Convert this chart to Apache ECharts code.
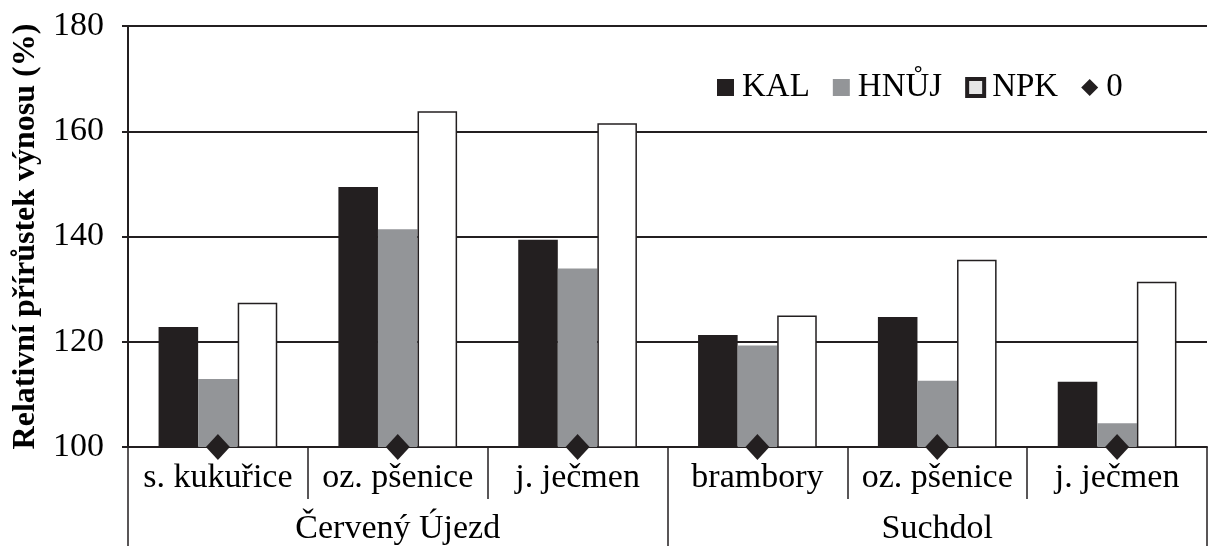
<!DOCTYPE html>
<html>
<head>
<meta charset="utf-8">
<script src="https://cdn.jsdelivr.net/npm/echarts@6/dist/echarts.min.js"></script>
<style>html,body{margin:0;padding:0;background:#fff}#c{width:1210px;height:546px}</style>
</head>
<body>
<div id="c"></div>
<script>
const crops = ['s. kukuřice', 'oz. pšenice', 'j. ječmen', 'brambory', 'oz. pšenice', 'j. ječmen'];
const sites = ['Červený Újezd', 'Suchdol'];
const kal = [122.8, 149.4, 139.4, 121.3, 124.7, 112.4];
const hnuj = [112.9, 141.4, 133.9, 119.3, 112.6, 104.5];
const npk = [127.4, 163.8, 161.5, 125.0, 135.6, 131.4];
const control = [100, 100, 100, 100, 100, 100];
const yTicks = [100, 120, 140, 160, 180];

const font = '"Liberation Serif", "Times New Roman", serif';
const ink = '#231f20';
const chart = echarts.init(document.getElementById('c'), null, {renderer: 'canvas'});
chart.setOption({
  animation: false,
  backgroundColor: '#fff',
  grid: {left: 128, right: 3, top: 26, bottom: 99, containLabel: false},
  legend: {
    left: 712, top: 66,
    itemWidth: 17, itemHeight: 17, itemGap: 23,
    textStyle: {fontFamily: font, fontSize: 33, color: '#000', padding: [0, 0, 0, 3]},
    data: [
      {name: 'KAL', icon: 'rect'},
      {name: 'HNŮJ', icon: 'rect'},
      {name: 'NPK', icon: 'rect', itemStyle: {color: '#e6e6e6', borderColor: ink, borderWidth: 4}},
      {name: '0', icon: 'diamond', itemStyle: {color: ink, opacity: 1}}
    ]
  },
  xAxis: [
    {
      type: 'category', data: crops, position: 'bottom',
      axisLine: {show: true, lineStyle: {color: ink, width: 2}},
      axisTick: {show: true, interval: 0, length: 52, lineStyle: {color: ink, width: 1.5}},
      axisLabel: {interval: 0, margin: 14, fontFamily: font, fontSize: 34, color: '#000'},
      splitLine: {show: false}
    },
    {
      type: 'category', data: sites, position: 'bottom', offset: 52,
      axisLine: {show: false},
      axisTick: {show: true, interval: 0, length: 50, alignWithLabel: false, lineStyle: {color: ink, width: 1.5}},
      axisLabel: {interval: 0, margin: 13, fontFamily: font, fontSize: 34, color: '#000'},
      splitLine: {show: false}
    }
  ],
  yAxis: {
    type: 'value', min: yTicks[0], max: yTicks[yTicks.length - 1], interval: 20,
    name: 'Relativní přírůstek výnosu (%)', nameLocation: 'middle', nameGap: 82,
    nameTextStyle: {fontFamily: font, fontSize: 32, fontWeight: 'bold', color: '#000'},
    axisLine: {show: true, lineStyle: {color: ink, width: 2}},
    axisTick: {show: true, length: 6, lineStyle: {color: ink, width: 2}},
    axisLabel: {margin: 24, fontFamily: font, fontSize: 34, color: '#000'},
    splitLine: {show: true, lineStyle: {color: ink, width: 2}}
  },
  series: [
    {name: 'KAL', type: 'bar', data: kal, barGap: '0%', barCategoryGap: '34%',
     itemStyle: {color: ink}},
    {name: 'HNŮJ', type: 'bar', data: hnuj, itemStyle: {color: '#939598'}},
    {name: 'NPK', type: 'bar', data: npk, itemStyle: {color: '#fff', borderColor: ink, borderWidth: 1.5}},
    {name: '0', type: 'scatter', data: control, symbol: 'diamond', symbolSize: [24, 26],
     itemStyle: {color: ink, opacity: 1}, z: 10, clip: false}
  ]
});
</script>
</body>
</html>
